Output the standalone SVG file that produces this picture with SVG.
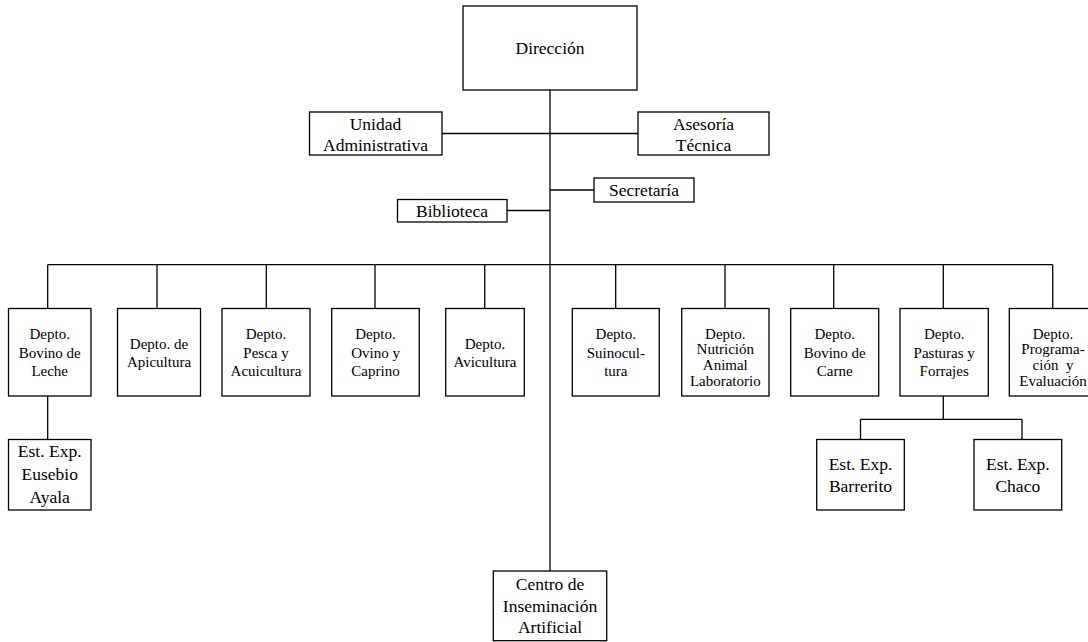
<svg xmlns="http://www.w3.org/2000/svg" width="1088" height="642" viewBox="0 0 1088 642">
<style>
.b{fill:#fff;stroke:#000;stroke-width:1.3}
.c line{stroke:#000;stroke-width:1.3}
.t text{fill:#000;text-anchor:middle}
.L{font-size:17.5px}
.S{font-size:15px}
</style>
<rect width="1088" height="642" fill="#fff"/>
<g class="c" id="connectors">
<line x1="550" y1="90" x2="550" y2="571"/>
<line x1="442" y1="133.5" x2="638" y2="133.5"/>
<line x1="550" y1="190" x2="594" y2="190"/>
<line x1="507" y1="210.5" x2="550" y2="210.5"/>
<line x1="47.7" y1="264.7" x2="1052.7" y2="264.7"/>
<line x1="47.7" y1="264.7" x2="47.7" y2="308"/>
<line x1="157" y1="264.7" x2="157" y2="308"/>
<line x1="266.3" y1="264.7" x2="266.3" y2="308"/>
<line x1="375" y1="264.7" x2="375" y2="308"/>
<line x1="484.7" y1="264.7" x2="484.7" y2="308"/>
<line x1="615.7" y1="264.7" x2="615.7" y2="308"/>
<line x1="725" y1="264.7" x2="725" y2="308"/>
<line x1="833.7" y1="264.7" x2="833.7" y2="308"/>
<line x1="943.3" y1="264.7" x2="943.3" y2="308"/>
<line x1="1052.7" y1="264.7" x2="1052.7" y2="308"/>
<line x1="47.7" y1="396" x2="47.7" y2="439.5"/>
<line x1="943.3" y1="396" x2="943.3" y2="419.3"/>
<line x1="860.5" y1="419.3" x2="1022" y2="419.3"/>
<line x1="860.5" y1="419.3" x2="860.5" y2="439.5"/>
<line x1="1022" y1="419.3" x2="1022" y2="439.5"/>
</g>
<g class="t" font-family="Liberation Serif, Times New Roman, serif">
<g id="direccion"><rect class="b" x="463" y="6" width="174" height="84"/><text class="L" x="550" y="54">Dirección</text></g>
<g id="unidad"><rect class="b" x="309.5" y="112" width="132.5" height="43"/><text class="L" x="375.5" y="129.5">Unidad</text><text class="L" x="375.5" y="151">Administrativa</text></g>
<g id="asesoria"><rect class="b" x="638" y="112" width="131" height="43"/><text class="L" x="703.5" y="129.5">Asesoría</text><text class="L" x="703.5" y="151">Técnica</text></g>
<g id="secretaria"><rect class="b" x="594" y="178" width="100" height="24"/><text class="L" x="644" y="196">Secretaría</text></g>
<g id="biblioteca"><rect class="b" x="397.5" y="199.5" width="109.5" height="22.5"/><text class="L" x="452" y="216.5">Biblioteca</text></g>
<g id="d1"><rect class="b" x="8.5" y="308.5" width="82.5" height="87.5"/><text class="S" x="49.7" y="339">Depto.</text><text class="S" x="49.7" y="357.5">Bovino de</text><text class="S" x="49.7" y="376">Leche</text></g>
<g id="d2"><rect class="b" x="117.5" y="308.5" width="83" height="87.5"/><text class="S" x="159" y="348.5">Depto. de</text><text class="S" x="159" y="367">Apicultura</text></g>
<g id="d3"><rect class="b" x="222" y="308.5" width="88" height="87.5"/><text class="S" x="266" y="339">Depto.</text><text class="S" x="266" y="357.5">Pesca y</text><text class="S" x="266" y="376">Acuicultura</text></g>
<g id="d4"><rect class="b" x="331.7" y="308.5" width="87.6" height="87.5"/><text class="S" x="375.5" y="339">Depto.</text><text class="S" x="375.5" y="357.5">Ovino y</text><text class="S" x="375.5" y="376">Caprino</text></g>
<g id="d5"><rect class="b" x="445.7" y="308.5" width="78.6" height="87.5"/><text class="S" x="485" y="348.5">Depto.</text><text class="S" x="485" y="367">Avicultura</text></g>
<g id="d6"><rect class="b" x="572.3" y="308.5" width="87" height="87.5"/><text class="S" x="615.8" y="339">Depto.</text><text class="S" x="615.8" y="357.5">Suinocul-</text><text class="S" x="615.8" y="376">tura</text></g>
<g id="d7"><rect class="b" x="681.7" y="308.5" width="87.3" height="87.5"/><text class="S" x="725.3" y="338.5">Depto.</text><text class="S" x="725.3" y="354">Nutrición</text><text class="S" x="725.3" y="370">Animal</text><text class="S" x="725.3" y="385.5">Laboratorio</text></g>
<g id="d8"><rect class="b" x="790.7" y="308.5" width="88" height="87.5"/><text class="S" x="834.7" y="339">Depto.</text><text class="S" x="834.7" y="357.5">Bovino de</text><text class="S" x="834.7" y="376">Carne</text></g>
<g id="d9"><rect class="b" x="900" y="308.5" width="88.3" height="87.5"/><text class="S" x="944.2" y="339">Depto.</text><text class="S" x="944.2" y="357.5">Pasturas y</text><text class="S" x="944.2" y="376">Forrajes</text></g>
<g id="d10"><rect class="b" x="1009.3" y="308.5" width="88" height="87.5"/><text class="S" x="1053" y="338.5">Depto.</text><text class="S" x="1053" y="354">Programa-</text><text class="S" x="1053" y="370" xml:space="preserve">ción  y</text><text class="S" x="1053" y="385.5">Evaluación</text></g>
<g id="e1"><rect class="b" x="8.5" y="439.5" width="82.5" height="70.5"/><text class="L" x="49.7" y="457">Est. Exp.</text><text class="L" x="49.7" y="480">Eusebio</text><text class="L" x="49.7" y="503">Ayala</text></g>
<g id="e2"><rect class="b" x="816.7" y="439.5" width="87.6" height="70.5"/><text class="L" x="860.5" y="470">Est. Exp.</text><text class="L" x="860.5" y="492">Barrerito</text></g>
<g id="e3"><rect class="b" x="974" y="439.5" width="87.7" height="70.5"/><text class="L" x="1017.8" y="470">Est. Exp.</text><text class="L" x="1017.8" y="492">Chaco</text></g>
<g id="centro"><rect class="b" x="493.3" y="571" width="113.4" height="69.7"/><text class="L" x="550" y="590">Centro de</text><text class="L" x="550" y="611.7">Inseminación</text><text class="L" x="550" y="632.7">Artificial</text></g>
</g>
</svg>
